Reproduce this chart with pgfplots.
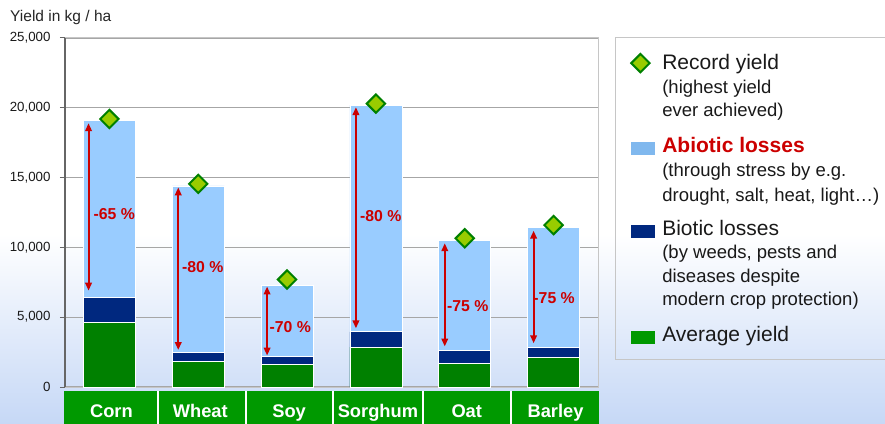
\documentclass[border=0pt]{standalone}
\usepackage{pgfplots}
\pgfplotsset{compat=1.18}
\usepackage{pgfplotstable}
\usepackage{fontspec}
\setmainfont{Liberation Sans}
\usetikzlibrary{arrows.meta}
\definecolor{barblue}{HTML}{99CCFF}
\definecolor{barnavy}{HTML}{00287F}
\definecolor{bargreen}{HTML}{008000}
\definecolor{leggreen}{HTML}{009900}
\definecolor{legblue}{HTML}{80B8EE}
\definecolor{bandgreen}{HTML}{009900}
\definecolor{recfill}{HTML}{99CC00}
\definecolor{recdraw}{HTML}{008000}
\definecolor{lossred}{HTML}{CC0000}
\definecolor{bgblue}{HTML}{C6D8F6}
\definecolor{gridgray}{HTML}{A6A6A6}
\newcommand{\lst}[2]{\rule[-#2]{0pt}{\dimexpr#1+#2\relax}}
\newcommand{\mainf}{\fontsize{21bp}{24bp}\selectfont}
\newcommand{\subf}{\fontsize{18.5bp}{22bp}\selectfont}

\pgfplotstableread{
x avg biotic top record
0 4600 6400 19100 19200
1 1800 2500 14400 14550
2 1600 2200 7300 7700
3 2850 3950 20200 20300
4 1700 2650 10500 10650
5 2100 2850 11400 11600
}\yields

\begin{document}
\begin{tikzpicture}
\path[use as bounding box] (0,0) rectangle (885bp,424bp);
\fill[white] (0,0) rectangle (885bp,424bp);
\shade[bottom color=bgblue, top color=white] (0,0) rectangle (885bp,190bp);
\draw[gray!45, line width=1bp] (615bp,64bp) rectangle (900bp,386bp);
\fill[bandgreen] (64bp,0) rectangle (599bp,33.3bp);
\foreach \sx in {158,246,333,423,511} \draw[white, line width=1.5bp] (\sx bp,0) -- (\sx bp,33.3bp);
\node[anchor=base west, inner sep=0pt, font=\fontsize{15.5bp}{18bp}\selectfont, text=black!85] at (10bp,402.3bp) {Yield in kg / ha};

\begin{axis}[
  at={(65bp,37bp)}, anchor=south west,
  width=533bp, height=349bp, scale only axis,
  xmin=-0.5, xmax=5.5, ymin=0, ymax=25000,
  clip=false,
  axis line style={draw=gray!45, line width=1bp},
  ymajorgrids, grid style={draw=gridgray, line width=1.3bp},
  ytick={0,5000,10000,15000,20000,25000},
  ytick pos=left, tick align=outside, major tick length=5bp,
  ytick style={draw=black!60, line width=1bp},
  yticklabel style={font=\fontsize{13.3bp}{15bp}\selectfont, text=black!90, xshift=-6bp},
  scaled y ticks=false,
  /pgf/number format/.cd, fixed, 1000 sep={,}, assume math mode=true, /pgfplots/.cd,
  xtick={0,1,2,3,4,5},
  xticklabels={Corn,Wheat,Soy,Sorghum,Oat,Barley},
  xtick style={draw=none},
  xticklabel style={font=\fontsize{18.3bp}{20bp}\selectfont\bfseries, text=white, anchor=base, yshift=-25bp, xshift=2bp},
  legend style={at={(1.0614,1)}, anchor=north west, draw=none, fill=none, inner sep=0pt,
    nodes={inner sep=0pt, text depth=}, cells={anchor=base west}, column sep=8bp, row sep=0pt,
    text=black!90},
]
% legend
\addlegendimage{legend image code/.code={\draw[recdraw, fill=recfill, line width=2bp] plot[only marks, mark=square*, mark size=6.5bp, mark options={rotate=45}] coordinates {(9.3bp,6.3bp)};}}
\addlegendentry{\mainf\lst{31.2bp}{6bp}Record yield}
\addlegendimage{empty legend}
\addlegendentry{\subf\lst{18.1bp}{6bp}(highest yield}
\addlegendimage{empty legend}
\addlegendentry{\subf\lst{17.3bp}{6bp}ever achieved)}
\addlegendimage{legend image code/.code={\fill[legblue] (0bp,-1bp) rectangle (23bp,11bp);}}
\addlegendentry{\mainf\lst{29.9bp}{6bp}\textcolor{lossred}{\bfseries Abiotic losses}}
\addlegendimage{empty legend}
\addlegendentry{\subf\lst{18.1bp}{6bp}(through stress by e.g.}
\addlegendimage{empty legend}
\addlegendentry{\subf\lst{19bp}{6bp}drought, salt, heat, light…)}
\addlegendimage{legend image code/.code={\fill[barnavy] (0bp,-1bp) rectangle (23bp,11bp);}}
\addlegendentry{\mainf\lst{27.9bp}{6bp}Biotic losses}
\addlegendimage{empty legend}
\addlegendentry{\subf\lst{17.1bp}{6bp}(by weeds, pests and}
\addlegendimage{empty legend}
\addlegendentry{\subf\lst{17.7bp}{6bp}diseases despite}
\addlegendimage{empty legend}
\addlegendentry{\subf\lst{17.3bp}{6bp}modern crop protection)}
\addlegendimage{legend image code/.code={\fill[leggreen] (0bp,-1bp) rectangle (23bp,11bp);}}
\addlegendentry{\mainf\lst{29.9bp}{6bp}Average yield}

% bars (cumulative heights, overlapped)
\addplot[ybar, bar width=52bp, bar shift=0pt, fill=barblue, draw=white, line width=0.8bp, forget plot] table[x=x, y=top] {\yields};
\addplot[ybar, bar width=52bp, bar shift=0pt, fill=barnavy, draw=white, line width=0.8bp, forget plot] table[x=x, y=biotic] {\yields};
\addplot[ybar, bar width=52bp, bar shift=0pt, fill=bargreen, draw=white, line width=0.8bp, forget plot] table[x=x, y=avg] {\yields};

% loss arrows
\addplot[lossred, line width=2bp, {Triangle[length=8bp,width=6.5bp]}-{Triangle[length=8bp,width=6.5bp]}, forget plot] coordinates {(-0.235,18900) (-0.235,6900)};
\addplot[lossred, line width=2bp, {Triangle[length=8bp,width=6.5bp]}-{Triangle[length=8bp,width=6.5bp]}, forget plot] coordinates {(0.775,14300) (0.775,2650)};
\addplot[lossred, line width=2bp, {Triangle[length=8bp,width=6.5bp]}-{Triangle[length=8bp,width=6.5bp]}, forget plot] coordinates {(1.775,7200) (1.775,2250)};
\addplot[lossred, line width=2bp, {Triangle[length=8bp,width=6.5bp]}-{Triangle[length=8bp,width=6.5bp]}, forget plot] coordinates {(2.775,20050) (2.775,4200)};
\addplot[lossred, line width=2bp, {Triangle[length=8bp,width=6.5bp]}-{Triangle[length=8bp,width=6.5bp]}, forget plot] coordinates {(3.775,10300) (3.775,2900)};
\addplot[lossred, line width=2bp, {Triangle[length=8bp,width=6.5bp]}-{Triangle[length=8bp,width=6.5bp]}, forget plot] coordinates {(4.775,11200) (4.775,3130)};

% record yields
\addplot[only marks, mark=square*, mark size=6.5bp, mark options={rotate=45, draw=recdraw, fill=recfill, line width=2bp}, forget plot] table[x=x, y=record] {\yields};

% percentage labels
\begin{scope}[every node/.style={font=\fontsize{15.8bp}{18bp}\selectfont\bfseries, text=lossred, inner sep=0pt}]
\node at (axis cs:0.055,12400) {-65 \%};
\node at (axis cs:1.05,8600) {-80 \%};
\node at (axis cs:2.035,4320) {-70 \%};
\node at (axis cs:3.054,12250) {-80 \%};
\node at (axis cs:4.034,5820) {-75 \%};
\node at (axis cs:5.006,6400) {-75 \%};
\end{scope}
\draw[black!60, line width=1.2bp] (rel axis cs:0,0) -- (rel axis cs:0,1);
\end{axis}
\end{tikzpicture}
\end{document}
